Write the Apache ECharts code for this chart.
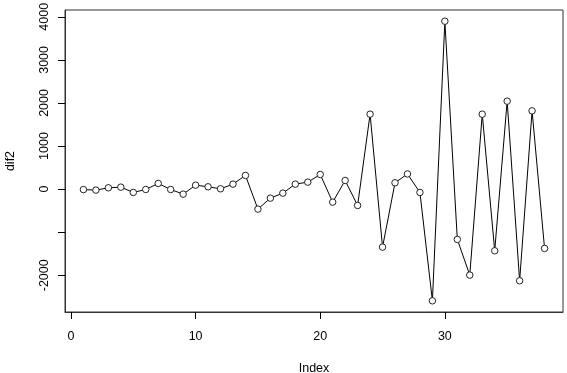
<!DOCTYPE html>
<html>
<head>
<meta charset="utf-8">
<script src="https://cdn.jsdelivr.net/npm/echarts@6/dist/echarts.min.js"></script>
<style>html,body{margin:0;padding:0;background:#fff}#c{width:567px;height:373px}</style>
</head>
<body>
<div id="c"></div>
<script>
const indexValues = [1,2,3,4,5,6,7,8,9,10,11,12,13,14,15,16,17,18,19,20,21,22,23,24,25,26,27,28,29,30,31,32,33,34,35,36,37,38];
const dif2 = [-10,-23,31,46,-77,-8,132,-8,-116,93,54,8,116,318,-464,-209,-93,116,162,340,-302,201,-379,1740,-1346,147,352,-77,-2592,3898,-1167,-1995,1740,-1431,2042,-2127,1817,-1376];
const xTicks = [0,10,20,30];
const yTicks = [-2000,-1000,0,1000,2000,3000,4000];
const yTickLabels = [-2000,0,1000,2000,3000,4000];

const chart = echarts.init(document.getElementById('c'), null, {renderer:'canvas'});
const font = 'Liberation Sans, Arial, sans-serif';
const fs = 12.5;
const lineCol = '#333';
chart.setOption({
  animation:false,
  grid:{left:65,right:4,top:10,bottom:61,show:true,borderColor:lineCol,borderWidth:1,containLabel:false,outerBoundsMode:'none'},
  xAxis:[{
    type:'value', min:-0.48, max:39.48, position:'bottom',
    name:'Index', nameLocation:'middle', nameGap:50,
    nameTextStyle:{fontFamily:font,fontSize:fs,color:'#000'},
    axisLine:{show:true,onZero:false,lineStyle:{color:lineCol,width:1}},
    splitLine:{show:false},
    axisTick:{show:true,length:7,inside:false,customValues:xTicks,lineStyle:{color:'#000',width:1}},
    axisLabel:{show:true,margin:18,customValues:xTicks,formatter:v=>String(v),fontFamily:font,fontSize:fs,color:'#000'}
  }],
  yAxis:[{
    type:'value', min:-2852, max:4158, position:'left',
    name:'dif2', nameLocation:'middle', nameGap:47.5, nameRotate:90,
    nameTextStyle:{fontFamily:font,fontSize:fs,color:'#000'},
    axisLine:{show:true,onZero:false,lineStyle:{color:lineCol,width:1}},
    splitLine:{show:false},
    axisTick:{show:true,length:7,inside:false,customValues:yTicks,lineStyle:{color:'#000',width:1}},
    axisLabel:{show:true,margin:14,rotate:90,customValues:yTickLabels,formatter:v=>String(v),fontFamily:font,fontSize:fs,color:'#000'}
  }],
  series:[{
    type:'line',
    data:indexValues.map((x,i)=>[x,dif2[i]]),
    symbol:'circle', symbolSize:6.5,
    lineStyle:{color:'#000',width:1},
    itemStyle:{color:'#fff',borderColor:'#222',borderWidth:1},
    showAllSymbol:true
  }]
});
</script>
</body>
</html>
